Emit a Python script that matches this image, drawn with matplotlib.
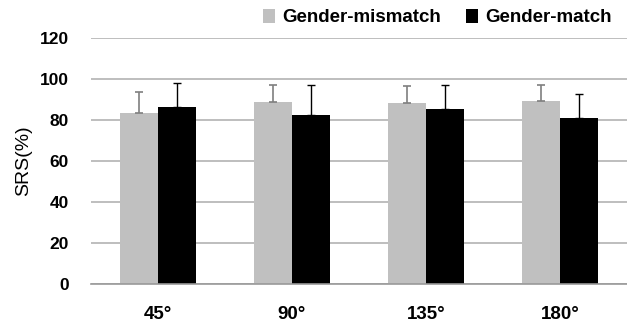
import numpy as np
import matplotlib.pyplot as plt

plt.rcParams['font.family'] = ['Liberation Sans', 'DejaVu Sans']

categories = ['45°', '90°', '135°', '180°']
mismatch = [83.3, 88.9, 88.1, 89.4]
mismatch_err = [10.5, 8.0, 8.5, 7.5]
match = [86.3, 82.4, 85.5, 81.0]
match_err = [11.6, 14.5, 11.4, 11.5]

fig = plt.figure(figsize=(6.27, 3.24), dpi=100)
ax = fig.add_axes([0.145, 0.123, 0.855, 0.76])

x = np.arange(len(categories))
w = 0.284
ax.bar(x - w / 2, mismatch, w, color='#c0c0c0', label='Gender-mismatch', zorder=2,
       yerr=[np.zeros(4), mismatch_err], error_kw=dict(ecolor='#7f7f7f', elinewidth=1.2, capsize=3, capthick=1.2))
ax.bar(x + w / 2, match, w, color='black', label='Gender-match', zorder=2,
       yerr=[np.zeros(4), match_err], error_kw=dict(ecolor='black', elinewidth=1.0, capsize=3, capthick=1.0))

ax.set_xlim(-0.5, 3.5)
ax.set_ylim(0, 120)
ax.set_yticks(range(0, 121, 20))
ax.yaxis.grid(True, color='#b3b3b3', linewidth=1.2, zorder=0)
ax.set_axisbelow(True)
for s in ['left', 'right', 'top']:
    ax.spines[s].set_visible(False)
ax.spines['bottom'].set_color('#999999')
ax.spines['bottom'].set_linewidth(1.2)
ax.set_xticks(x)
ax.set_xticklabels(categories)
ax.tick_params(axis='both', length=0)
ax.tick_params(axis='x', pad=16, labelsize=13.5)
ax.tick_params(axis='y', pad=16, labelsize=12.5)
for lbl in ax.get_xticklabels() + ax.get_yticklabels():
    lbl.set_fontweight('bold')
ax.set_ylabel('SRS(%)', fontsize=14, labelpad=5)

fig.legend(loc='upper right', bbox_to_anchor=(1.003, 1.025), ncol=2, frameon=False,
           prop={'weight': 'bold', 'size': 13.5}, handlelength=0.65, handleheight=0.75,
           handletextpad=0.4, columnspacing=1.3)

fig.savefig('out.png', dpi=100)
